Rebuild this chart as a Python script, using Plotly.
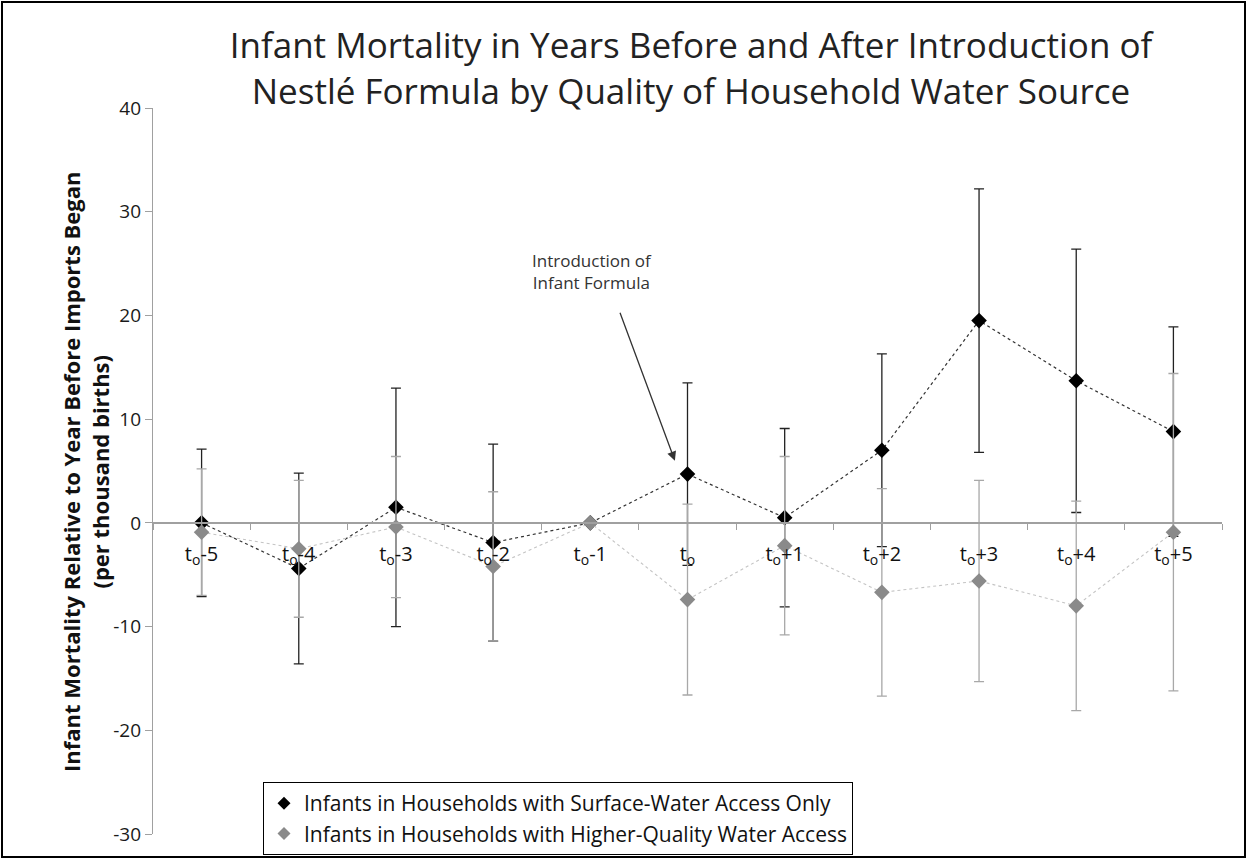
import plotly.graph_objects as go

# ---- data ----
categories = ["t<sub>o</sub>-5", "t<sub>o</sub>-4", "t<sub>o</sub>-3", "t<sub>o</sub>-2", "t<sub>o</sub>-1",
              "t<sub>o</sub>", "t<sub>o</sub>+1", "t<sub>o</sub>+2", "t<sub>o</sub>+3", "t<sub>o</sub>+4",
              "t<sub>o</sub>+5"]
surface_vals = [0.0, -4.4, 1.5, -1.9, 0.0, 4.7, 0.5, 7.0, 19.5, 13.7, 8.8]
surface_err = [7.1, 9.2, 11.5, 9.5, 0.0, 8.8, 8.6, 9.3, 12.7, 12.7, 10.1]
higher_vals = [-0.9, -2.5, -0.4, -4.2, 0.0, -7.4, -2.2, -6.7, -5.6, -8.0, -0.9]
higher_err = [6.1, 6.6, 6.8, 7.2, 0.0, 9.2, 8.6, 10.0, 9.7, 10.1, 15.3]

y_tickvals = [-30, -20, -10, 0, 10, 20, 30, 40]
y_ticktext = ["-30", "-20", "-10", "0", "10", "20", "30", "40"]

names = ["Infants in Households with Surface-Water Access Only",
         "Infants in Households with Higher-Quality Water Access"]
title_text = ("Infant Mortality in Years Before and After Introduction of<br>"
              "Nestlé Formula by Quality of Household Water Source")
ytitle = "<b>Infant Mortality Relative to Year Before Imports Began<br>(per thousand births)</b>"
y_range = [-30, 40]

W, H = 1248, 859
L, R, T, B = 153, 26, 108, 25
pw, ph = W - L - R, H - T - B

FONT = "Open Sans, Liberation Sans, sans-serif"

fig = go.Figure()

fig.add_trace(go.Scatter(
    x=categories, y=surface_vals, mode="lines+markers", showlegend=False,
    line=dict(color="#333333", width=1.2, dash="dot"),
    marker=dict(symbol="diamond", size=12, color="black"),
    error_y=dict(type="data", array=surface_err, color="#222222", thickness=1.3, width=5),
))
fig.add_trace(go.Scatter(
    x=categories, y=higher_vals, mode="lines+markers", showlegend=False,
    line=dict(color="#c4c4c4", width=1.1, dash="dot"),
    marker=dict(symbol="diamond", size=12, color="#8a8a8a"),
    error_y=dict(type="data", array=higher_err, color="#a8a8a8", thickness=1.3, width=5),
))
# legend-only entries (markers only)
fig.add_trace(go.Scatter(x=[None], y=[None], mode="markers", name=names[0],
                         marker=dict(symbol="diamond", size=10, color="black")))
fig.add_trace(go.Scatter(x=[None], y=[None], mode="markers", name=names[1],
                         marker=dict(symbol="diamond", size=10, color="#8a8a8a")))

zero_pos = (0 - y_range[0]) / (y_range[1] - y_range[0])

fig.update_layout(
    width=W, height=H, autosize=False,
    margin=dict(l=L, r=R, t=T, b=B, autoexpand=False),
    paper_bgcolor="white", plot_bgcolor="white",
    font=dict(family=FONT, color="#222222"),
    title=dict(text=title_text, xref="container", x=691 / W, xanchor="center",
               yref="container", y=1 - 58 / H, yanchor="middle",
               font=dict(size=35, color="#222222", family=FONT)),
    xaxis=dict(type="category", range=[-0.5, 10.5], anchor="free", position=zero_pos,
               showline=True, linecolor="#a0a0a0", linewidth=1.5,
               ticks="outside", tickson="boundaries", ticklen=6, tickcolor="#a0a0a0",
               tickfont=dict(size=20, color="#111111"), ticklabelstandoff=13,
               showgrid=False, zeroline=False),
    yaxis=dict(range=y_range, tickvals=y_tickvals, ticktext=y_ticktext,
               showline=True, linecolor="#a0a0a0", linewidth=1.2,
               ticks="outside", ticklen=7, tickcolor="#a0a0a0",
               tickfont=dict(size=19, color="#1a1a1a"),
               showgrid=False, zeroline=False),
    legend=dict(xref="container", yref="container", x=263 / W, y=1 - 782 / H,
                xanchor="left", yanchor="top",
                bordercolor="black", borderwidth=1, bgcolor="white",
                font=dict(size=21, color="#111111"), tracegroupgap=0),
    annotations=[
        dict(x=(86 - L) / pw, y=(H - B - 472) / ph, xref="paper", yref="paper",
             text=ytitle, textangle=-90, showarrow=False,
             xanchor="center", yanchor="middle",
             font=dict(size=22, color="#111111")),
        dict(x=4.02, y=24.2, xref="x", yref="y", text="Introduction of<br>Infant Formula",
             showarrow=False, font=dict(size=17, color="#333333")),
        dict(x=4.87, y=6.0, xref="x", yref="y", ax=4.30, ay=20.4, axref="x", ayref="y",
             text="", showarrow=True, arrowhead=2, arrowsize=1.4, arrowwidth=1.3,
             arrowcolor="#333333"),
    ],
    shapes=[
        dict(type="rect", xref="paper", yref="paper",
             x0=(2 - L) / pw, x1=(W - 3 - L) / pw,
             y0=(H - B - (H - 2)) / ph, y1=(H - B - 2) / ph,
             line=dict(color="black", width=2), fillcolor="rgba(0,0,0,0)", layer="below"),
    ],
)

fig.write_html("out.html", config={"displayModeBar": False},
               post_script="document.body.style.margin='0px';document.body.style.overflow='hidden';")
